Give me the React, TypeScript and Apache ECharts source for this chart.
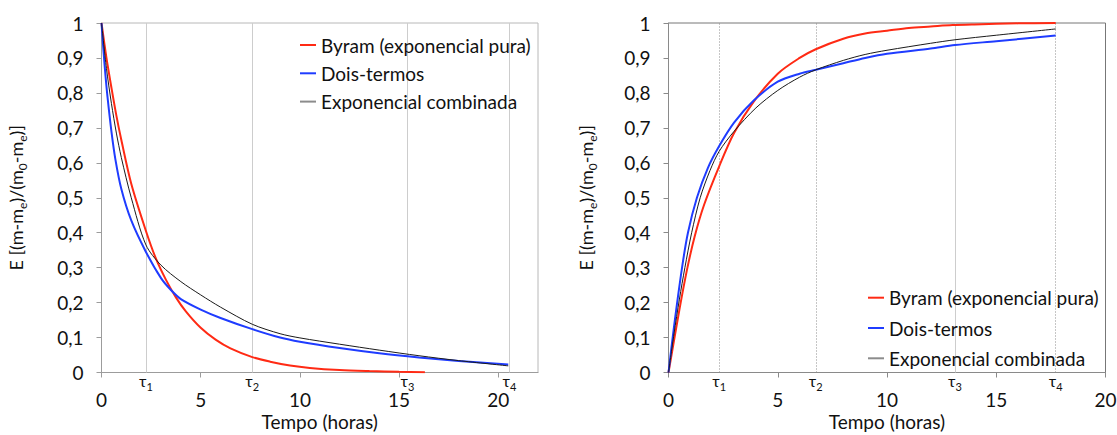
import React, { useEffect, useRef } from "react";
import * as echarts from "echarts";

// ---------- data ----------
const seriesNames = ["Byram (exponencial pura)", "Dois-termos", "Exponencial combinada"];

// Left chart: E = (m - me)/(m0 - me) decreasing
const leftByram: number[][] = [
  [0, 1], [0.25, 0.9], [0.5, 0.815], [0.75, 0.735], [1, 0.665], [1.5, 0.54], [2.24, 0.405],
  [2.75, 0.325], [3.25, 0.265], [3.75, 0.215], [4.25, 0.175], [5, 0.128], [5.75, 0.094],
  [6.5, 0.069], [7.6, 0.044], [8.5, 0.031], [9.5, 0.02], [10.5, 0.013], [12, 0.007],
  [13.5, 0.004], [15, 0.002], [16.3, 0.001],
];
const leftDoisTermos: number[][] = [
  [0, 1], [0.1, 0.92], [0.2, 0.85], [0.3, 0.79], [0.5, 0.69], [0.7, 0.61], [1, 0.525],
  [1.5, 0.435], [2.24, 0.345], [3, 0.27], [3.5, 0.236], [4, 0.21], [5, 0.18], [6, 0.156],
  [7.6, 0.124], [9, 0.1], [10, 0.088], [12, 0.07], [14, 0.055], [16, 0.043], [18, 0.033],
  [20.5, 0.023],
];
const leftCombinada: number[][] = [
  [0, 1], [0.25, 0.87], [0.5, 0.77], [0.75, 0.685], [1, 0.615], [1.5, 0.5], [2.24, 0.365],
  [3, 0.307], [4, 0.26], [5, 0.222], [6, 0.187], [7.6, 0.138], [9, 0.111], [10, 0.099],
  [12, 0.081], [14, 0.064], [16, 0.048], [18, 0.034], [20.5, 0.019],
];
const leftTau = [2.24, 7.6, 15.42, 20.56];

// Right chart: E = (m - me)/(m0 - me) increasing
const rightByram: number[][] = [
  [0, 0], [0.5, 0.18], [0.85, 0.295], [1.2, 0.39], [1.63, 0.48], [2.32, 0.59], [3, 0.685],
  [3.9, 0.775], [5, 0.855], [6, 0.9], [6.74, 0.925], [8, 0.955], [9, 0.97], [10, 0.978],
  [11, 0.986], [12, 0.99], [13, 0.994], [14, 0.996], [16, 0.999], [17.72, 1],
];
const rightDoisTermos: number[][] = [
  [0, 0], [0.25, 0.13], [0.62, 0.3], [0.89, 0.4], [1.3, 0.5], [1.8, 0.585], [2.32, 0.648],
  [3, 0.715], [3.9, 0.778], [5, 0.832], [6, 0.855], [6.74, 0.866], [8, 0.885], [9, 0.9],
  [10, 0.912], [12, 0.927], [13.11, 0.937], [15, 0.948], [17.72, 0.964],
];
const rightCombinada: number[][] = [
  [0, 0], [0.25, 0.11], [0.5, 0.21], [0.75, 0.3], [1.06, 0.4], [1.45, 0.5], [1.9, 0.578],
  [2.32, 0.633], [3, 0.69], [4, 0.757], [5, 0.807], [6, 0.845], [6.74, 0.866], [8, 0.893],
  [9, 0.91], [10, 0.922], [12, 0.942], [13.11, 0.952], [15, 0.965], [17.72, 0.983],
];
const rightTau = [2.32, 6.74, 13.11, 17.72];

const xTickLabels = ["0", "5", "10", "15", "20"];
const xAxisTitle = "Tempo (horas)";
const yAxisTitle = "E [(m-m{s|e})/(m{s|0}-m{s|e})]";

// ---------- styles ----------
const FONT = "Lato";
const FS = 19;
const RED = "#ff2a14";
const BLUE = "#1f3cff";
const BLACK = "#1a1a1a";
const TXT = "#111111";

const yFmt = (v: number) => {
  if (Math.abs(v) < 1e-9) return "0";
  if (Math.abs(v - 1) < 1e-9) return "1";
  return v.toFixed(1).replace(".", ",");
};
const xFmt = (v: number) => {
  const s = String(Math.round(v));
  return xTickLabels.includes(s) && Math.abs(v - Math.round(v)) < 1e-9 ? s : "";
};

const tauRich = {
  t: { fontSize: 16, lineHeight: 13, verticalAlign: "top", fontFamily: FONT, color: TXT },
  s: { fontSize: 11, lineHeight: 8, padding: [8, 0, 0, 0], verticalAlign: "top", fontFamily: FONT, color: TXT },
};

function makeAxes(gridIndex: number, xMax: number, axisColor: string) {
  const x = {
    gridIndex,
    type: "value",
    min: 0,
    max: xMax,
    interval: 5,
    axisLine: { show: true, onZero: false, lineStyle: { color: axisColor, width: 1 } },
    axisTick: { show: true, inside: false, length: 5, lineStyle: { color: axisColor } },
    axisLabel: { fontSize: FS, lineHeight: 20, color: TXT, margin: 17, fontFamily: FONT, formatter: xFmt, showMaxLabel: xMax === 20 },
    splitLine: { show: false },
    name: xAxisTitle,
    nameLocation: "middle",
    nameGap: 39,
    nameMoveOverlap: false,
    nameTextStyle: { fontSize: FS, color: TXT, fontFamily: FONT, lineHeight: 20 },
  };
  const y = {
    gridIndex,
    type: "value",
    min: 0,
    max: 1,
    interval: 0.1,
    axisLine: { show: true, onZero: false, lineStyle: { color: axisColor, width: 1 } },
    axisTick: { show: true, inside: false, length: 5, lineStyle: { color: axisColor } },
    axisLabel: { fontSize: FS, color: TXT, margin: 18, fontFamily: FONT, formatter: yFmt },
    splitLine: { show: false },
    name: yAxisTitle,
    nameLocation: "middle",
    nameRotate: 90,
    nameGap: gridIndex === 0 ? 73 : 70,
    nameTextStyle: {
      fontSize: 18,
      color: TXT,
      fontFamily: FONT,
      lineHeight: 25,
      rich: {
        s: { fontSize: 12, lineHeight: 13, verticalAlign: "bottom", fontFamily: FONT, color: TXT },
      },
    },
  };
  return { x, y };
}

function lineSeries(name: string, data: number[][], idx: number, color: string, width: number, markLine?: any) {
  const s: any = {
    name,
    type: "line",
    xAxisIndex: idx,
    yAxisIndex: idx,
    data,
    showSymbol: false,
    symbol: "none",
    smooth: 0.3,
    lineStyle: { color, width },
    itemStyle: { color },
    emphasis: { disabled: true },
    silent: true,
    z: 3,
  };
  if (markLine) s.markLine = markLine;
  return s;
}

function tauMarkLine(taus: number[], styles: any[]) {
  return {
    silent: true,
    symbol: ["none", "none"],
    animation: false,
    emphasis: { disabled: true },
    label: {
      show: true,
      position: "start",
      distance: 0,
      color: TXT,
      rich: tauRich,
    },
    data: taus.map((v, i) => ({
      xAxis: v,
      lineStyle: styles[i],
      label: { formatter: `{t|τ}{s|${i + 1}}` },
    })),
    z: 1,
  };
}

export default function App() {
  const ref = useRef<HTMLDivElement>(null);

  useEffect(() => {
    if (!ref.current) return;
    const chart = echarts.init(ref.current, undefined, { renderer: "svg" });

    const leftAx = makeAxes(0, 22, "#9c9c9c");
    const rightAx = makeAxes(1, 20, "#8a8a8a");

    const lightSolid = { color: "#cdcdcd", type: "solid", width: 1 };
    const dotted = { color: "#8c8c8c", type: [1, 2], width: 1 };

    const legendBase = {
      orient: "vertical",
      icon: "rect",
      itemWidth: 16,
      itemHeight: 2,
      padding: 0,
      selectedMode: false,
      textStyle: { fontSize: FS, color: TXT, fontFamily: FONT, lineHeight: 20 },
      data: [
        { name: seriesNames[0] },
        { name: seriesNames[1] },
        { name: seriesNames[2], itemStyle: { color: "#8c8c8c" } },
      ],
    };

    const option: any = {
      animation: false,
      textStyle: { fontFamily: FONT },
      grid: [
        { left: 101.5, top: 23, width: 436.5, height: 349.5, show: true, borderColor: "#b8b8b8", borderWidth: 1, backgroundColor: "transparent", outerBoundsMode: "none", containLabel: false },
        { left: 668.5, top: 23, width: 437, height: 349.5, show: true, borderColor: "#777777", borderWidth: 1, backgroundColor: "transparent", outerBoundsMode: "none", containLabel: false },
      ],
      legend: [
        { ...legendBase, left: 300, top: 35, itemGap: 8.3 },
        { ...legendBase, left: 868, top: 287.7, itemGap: 10.3 },
      ],
      xAxis: [leftAx.x, rightAx.x],
      yAxis: [leftAx.y, rightAx.y],
      series: [
        lineSeries(seriesNames[0], leftByram, 0, RED, 2),
        lineSeries(seriesNames[1], leftDoisTermos, 0, BLUE, 2),
        lineSeries(seriesNames[2], leftCombinada, 0, BLACK, 1,
          tauMarkLine(leftTau, [lightSolid, lightSolid, lightSolid, lightSolid])),
        lineSeries(seriesNames[0], rightByram, 1, RED, 2),
        lineSeries(seriesNames[1], rightDoisTermos, 1, BLUE, 2),
        lineSeries(seriesNames[2], rightCombinada, 1, BLACK, 1,
          tauMarkLine(rightTau, [dotted, dotted, lightSolid, dotted])),
      ],
    };

    chart.setOption(option);
    return () => chart.dispose();
  }, []);

  return (
    <div
      ref={ref}
      style={{ position: "fixed", left: 0, top: 0, width: 1117, height: 435, background: "#ffffff" }}
    />
  );
}
